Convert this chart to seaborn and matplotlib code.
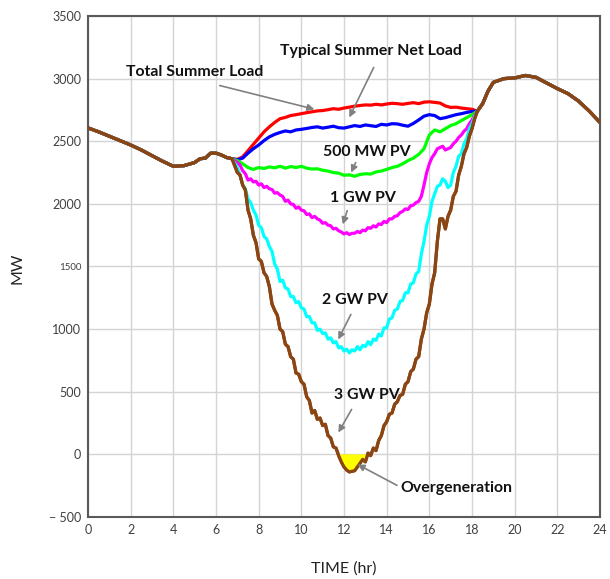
import numpy as np
import pandas as pd
import matplotlib
matplotlib.use("Agg")
import matplotlib.pyplot as plt
import seaborn as sns

# ---------------- data ----------------
morning_t = [0, 0.5, 1, 1.5, 2, 2.5, 3, 3.5, 4, 4.5, 5, 5.25, 5.5, 5.75, 6, 6.25, 6.5, 6.75]
morning = [2606, 2575, 2540, 2505, 2470, 2430, 2385, 2340, 2300, 2305, 2330, 2360, 2365, 2405, 2405, 2390, 2370, 2360]

# daytime hours, quarter-hour (coarse) and eighth-hour (fine) sampling
day_t = [7.0, 7.25, 7.5, 7.75, 8.0, 8.25, 8.5, 8.75, 9.0, 9.25, 9.5, 9.75, 10.0, 10.25, 10.5, 10.75,
         11.0, 11.25, 11.5, 11.75, 12.0, 12.25, 12.5, 12.75, 13.0, 13.25, 13.5, 13.75, 14.0, 14.25,
         14.5, 14.75, 15.0, 15.25, 15.5, 15.75, 16.0, 16.25, 16.5, 16.75, 17.0, 17.25, 17.5, 17.75,
         18.0, 18.25]
day_t_fine = [round(7.0 + 0.125 * i, 3) for i in range(91)]

total_load = [2355, 2375, 2425, 2475, 2525, 2575, 2615, 2650, 2680, 2690,
              2705, 2712, 2720, 2728, 2735, 2742, 2745, 2752, 2760, 2755,
              2765, 2772, 2780, 2785, 2790, 2788, 2795, 2790, 2797, 2803,
              2800, 2795, 2802, 2808, 2800, 2812, 2815, 2810, 2805, 2782,
              2770, 2772, 2765, 2760, 2755, 2740]
net_load = [2352, 2365, 2405, 2440, 2470, 2505, 2535, 2555, 2570, 2582,
            2575, 2590, 2595, 2602, 2610, 2615, 2605, 2612, 2620, 2608,
            2605, 2615, 2625, 2618, 2630, 2624, 2618, 2635, 2630, 2640,
            2638, 2628, 2620, 2642, 2670, 2700, 2712, 2705, 2680, 2688,
            2700, 2712, 2720, 2730, 2738, 2740]
pv_500mw = [2345, 2320, 2290, 2275, 2290, 2282, 2295, 2288, 2300, 2285,
            2298, 2290, 2300, 2285, 2278, 2280, 2268, 2262, 2250, 2245,
            2228, 2232, 2220, 2235, 2240, 2238, 2255, 2262, 2275, 2290,
            2300, 2320, 2345, 2365, 2395, 2440, 2550, 2590, 2575, 2600,
            2625, 2640, 2665, 2688, 2712, 2740]
pv_1gw = [2330, 2310, 2265, 2240, 2190, 2200, 2175, 2180, 2150, 2160,
          2130, 2140, 2120, 2115, 2085, 2090, 2070, 2060, 2020, 2030,
          2000, 1995, 1965, 1975, 1950, 1945, 1915, 1920, 1890, 1900,
          1880, 1870, 1845, 1850, 1830, 1825, 1800, 1805, 1785, 1775,
          1760, 1770, 1755, 1765, 1765, 1780, 1770, 1790, 1785, 1810,
          1805, 1825, 1815, 1840, 1835, 1860, 1850, 1880, 1880, 1900,
          1905, 1930, 1940, 1960, 1955, 1985, 1990, 2010, 2020, 2060,
          2150, 2250, 2320, 2370, 2400, 2440, 2450, 2460, 2430, 2440,
          2450, 2480, 2500, 2530, 2550, 2580, 2600, 2640, 2670, 2710,
          2740]
pv_2gw = [2290, 2230, 2150, 2120, 2040, 2010, 1950, 1910, 1830, 1810,
          1740, 1720, 1660, 1620, 1520, 1480, 1380, 1390, 1330, 1320,
          1260, 1260, 1210, 1220, 1170, 1160, 1100, 1100, 1050, 1050,
          990, 1000, 965, 970, 920, 930, 890, 900, 850, 860,
          825, 840, 810, 835, 825, 860, 835, 870, 860, 900,
          875, 920, 910, 960, 945, 1010, 1010, 1080, 1090, 1150,
          1160, 1220, 1230, 1290, 1290, 1360, 1370, 1440, 1460, 1600,
          1700, 1830, 1900, 2020, 2080, 2140, 2150, 2200, 2180, 2130,
          2150, 2250, 2300, 2380, 2400, 2480, 2520, 2600, 2640, 2700,
          2740]
pv_3gw = [2250, 2230, 2150, 2110, 1950, 1880, 1750, 1690, 1560, 1540,
          1450, 1420, 1340, 1200, 1150, 1110, 1000, 980, 880, 860,
          780, 760, 650, 640, 580, 560, 460, 430, 330, 350,
          280, 290, 230, 240, 150, 130, 60, 50, -10, -60,
          -100, -125, -140, -135, -130, -100, -70, -40, -60, 10,
          -10, 50, 30, 110, 150, 230, 260, 320, 330, 400,
          420, 470, 480, 560, 580, 660, 680, 760, 780, 920,
          1000, 1130, 1200, 1360, 1450, 1700, 1880, 1880, 1800, 1900,
          1950, 2060, 2100, 2230, 2300, 2400, 2450, 2540, 2600, 2680,
          2740]

evening_t = [18.5, 18.75, 19, 19.5, 20, 20.5, 21, 21.5, 22, 22.5, 23, 23.5, 24]
evening = [2800, 2900, 2970, 3000, 3005, 3025, 3010, 2965, 2920, 2880, 2820, 2740, 2650]

series_names = ["Total Summer Load", "Typical Summer Net Load", "500 MW PV", "1 GW PV", "2 GW PV", "3 GW PV"]
series_days = [total_load, net_load, pv_500mw, pv_1gw, pv_2gw, pv_3gw]
series_colors = ["#ff0000", "#0000ff", "#00ff00", "#ff00ff", "#00ffff", "#8B4513"]

x_ticks = [0, 2, 4, 6, 8, 10, 12, 14, 16, 18, 20, 22, 24]
y_ticks = [-500, 0, 500, 1000, 1500, 2000, 2500, 3000, 3500]

# annotations: text, text position, arrow start, arrow tip
annotations = [
    ("Total Summer Load", (5.0, 3053), (6.05, 2950), (10.74, 2750)),
    ("Typical Summer Net Load", (13.27, 3221), (13.45, 3109), (12.19, 2670)),
    ("500 MW PV", (13.08, 2414), (12.6, 2350), (12.28, 2230)),
    ("1 GW PV", (12.9, 2047), (12.19, 1967), (11.9, 1815)),
    ("2 GW PV", (12.5, 1233), (12.38, 1137), (11.67, 897)),
    ("3 GW PV", (13.06, 474), (12.42, 378), (11.67, 155)),
]

# ---------------- build long table ----------------
frames = []
for name, vals in zip(series_names, series_days):
    tt = day_t if len(vals) == len(day_t) else day_t_fine
    frames.append(pd.DataFrame({"TIME": morning_t + list(tt) + evening_t,
                                "MW": morning + vals + evening, "series": name}))
df = pd.concat(frames, ignore_index=True)

sns.set_style("white")
plt.rcParams["font.family"] = ["Lato", "DejaVu Sans"]

fig = plt.figure(figsize=(6.10, 5.79), dpi=100)
ax = fig.add_axes([0.1443, 0.1071, 0.8393, 0.8653])

sns.lineplot(data=df, x="TIME", y="MW", hue="series", hue_order=series_names,
             palette=series_colors, linewidth=2.3, legend=False, ax=ax, sort=True,
             estimator=None)

# overgeneration fill
brown_df = df[df["series"] == "3 GW PV"]
t_arr = brown_df["TIME"].to_numpy(dtype=float)
brown_full = brown_df["MW"].to_numpy(dtype=float)
ax.fill_between(t_arr, brown_full, 0, where=brown_full < 0, interpolate=True,
                color="#ffff00", zorder=5, linewidth=0)
ax.plot(t_arr, brown_full, color="#8B4513", linewidth=2.3, zorder=6)

ax.set_xlim(0, 24)
ax.set_ylim(-500, 3500)
ax.set_xticks(x_ticks)
ax.set_yticks(y_ticks)
ax.set_xticklabels([str(v) for v in x_ticks])
ax.set_yticklabels(["\u2212 500" if v == -500 else str(v) for v in y_ticks])
ax.grid(True, color="#d4d4d4", linewidth=1.0)
ax.set_axisbelow(True)
ax.tick_params(axis="both", length=0, labelsize=9, labelcolor="#404040", pad=5)
for lbl in ax.get_yticklabels():
    if lbl.get_text() == "1500":
        lbl.set_fontsize(7)
for s in ax.spines.values():
    s.set_color("#5a5a5a")
    s.set_linewidth(1.5)

ax.set_xlabel("TIME (hr)", fontsize=11.5, color="#222222")
ax.set_ylabel("MW", fontsize=11.5, color="#222222")
ax.xaxis.set_label_coords(0.5, -0.088)
ax.yaxis.set_label_coords(-0.125, 0.497)

arrow_kw = dict(arrowstyle="-|>", color="#808080", lw=1.2, mutation_scale=10)
for text, tpos, astart, atip in annotations:
    ax.text(tpos[0], tpos[1], text, ha="center", va="center", fontsize=11.4,
            fontweight="bold", color="#111111", zorder=10)
    ax.annotate("", xy=atip, xytext=astart, arrowprops=arrow_kw, zorder=10)

ax.text(14.65, -268, "Overgeneration", ha="left", va="center", fontsize=11.4,
        fontweight="bold", color="#111111", zorder=10)
ax.annotate("", xy=(12.52, -70), xytext=(14.6, -258), arrowprops=arrow_kw, zorder=10)

fig.savefig("out.png", dpi=100)
